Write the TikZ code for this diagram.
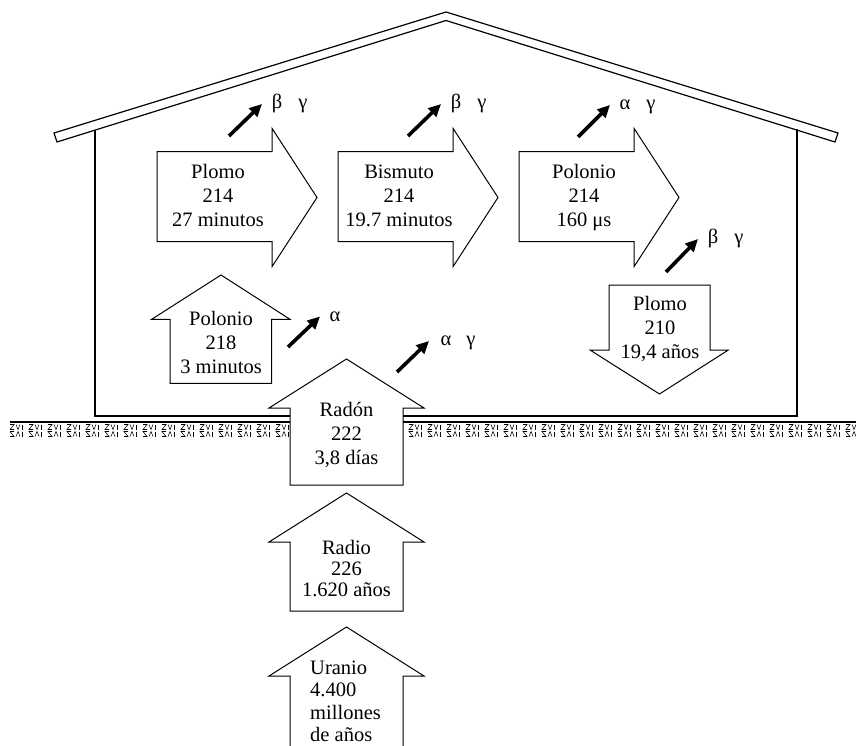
\documentclass[tikz,border=0pt]{standalone}
\usepackage{fontspec}
\setmainfont{Liberation Serif}
\usetikzlibrary{arrows.meta}
\begin{document}
\begin{tikzpicture}[x=1pt,y=-1pt,
  building/.style={draw=black,line width=1.2pt,line join=miter},
  outline/.style={draw=black,line width=1pt,fill=white,line join=miter},
  soil/.style={draw=black,line width=0.55pt},
  emission/.style={line width=3.6pt,-{Triangle[length=12.5pt 0,width=11.5pt 0]}},
  decay/.style={font=\fontsize{20.5}{24}\selectfont,inner sep=0pt,anchor=base},
  particle/.style={font=\fontsize{20.5}{24}\selectfont,inner sep=0pt,anchor=base},
  pics/rightdecay/.style={code={
    \draw[outline] (0,0) -- (115,0) -- (115,-23.4) -- (160,45.8)
      -- (115,115) -- (115,90) -- (0,90) -- cycle;}}
]
\useasboundingbox (0,0) rectangle (856,746);

% roof band
\draw[building] (54,133) -- (446,12) -- (838,133) -- (835,142)
  -- (446,20.5) -- (57,142) -- cycle;
% walls and floor
\draw[building] (95,130) -- (95,416) -- (797,416) -- (797,129.5);

% ground surface
\draw[building] (10,422) -- (856,422);
\begin{scope}
  \clip (10,422) rectangle (290,440) (403,422) rectangle (856,440);
  \foreach \x in {10,29,...,856} {
    \draw[soil] (\x,424.5) -- (\x+4,424.5) -- (\x,429.5) -- (\x+4,429.5);
    \draw[soil] (\x+6,424.5) -- (\x+8,429.5) -- (\x+10,424.5);
    \draw[soil] (\x+12,424.5) -- (\x+12,429.5);
    \draw[soil] (\x+4,431.5) -- (\x,431.5) -- (\x+4,436.5) -- (\x,436.5);
    \draw[soil] (\x+6,436.5) -- (\x+8,431.5) -- (\x+10,436.5);
    \draw[soil] (\x+12,431.5) -- (\x+12,436.5);
  }
\end{scope}

% decay chain shapes
\fill[white] (290.5,676.5) rectangle (402.5,746);
\draw[outline] (346.5,627) -- (424,676) -- (403,676) -- (403,746.5)
  (290,746.5) -- (290,676) -- (269,676) -- (346.5,627);
\draw[outline] (346.5,493) -- (424,542) -- (403,542) -- (403,611)
  -- (290,611) -- (290,542) -- (269,542) -- cycle;
\draw[outline] (346.5,359) -- (424,408) -- (403,408) -- (403,485)
  -- (290,485) -- (290,408) -- (269,408) -- cycle;
\draw[outline] (221,275) -- (290,319.3) -- (271.7,319.3) -- (271.7,383.3)
  -- (170,383.3) -- (170,319.3) -- (151.7,319.3) -- cycle;
\pic at (157,151.7) {rightdecay};
\pic at (338,151.7) {rightdecay};
\pic at (519,151.7) {rightdecay};
\draw[outline] (609,285) -- (710,285) -- (710,350) -- (728.3,350)
  -- (659.5,394) -- (590,350) -- (609,350) -- cycle;

% nuclide labels
\node[decay,anchor=base west] (u238) at (310,674)
  {\fontsize{20.5}{22.5}\selectfont\begin{tabular}[t]{@{}l@{}}Uranio\\4.400\\millones\\de años\end{tabular}};
\node[decay] (ra226) at (346.5,554)
  {\fontsize{20.5}{21}\selectfont\begin{tabular}[t]{@{}c@{}}Radio\\226\\1.620 años\end{tabular}};
\node[decay] (rn222) at (346.5,416.7)
  {\begin{tabular}[t]{@{}c@{}}Radón\\222\\3,8 días\end{tabular}};
\node[decay] (po218) at (221,325)
  {\begin{tabular}[t]{@{}c@{}}Polonio\\218\\3 minutos\end{tabular}};
\node[decay] (pb214) at (218,178.3)
  {\begin{tabular}[t]{@{}c@{}}Plomo\\214\\27 minutos\end{tabular}};
\node[decay] (bi214) at (399,178.3)
  {\begin{tabular}[t]{@{}c@{}}Bismuto\\214\\19.7 minutos\end{tabular}};
\node[decay] (po214) at (584,178.3)
  {\begin{tabular}[t]{@{}c@{}}Polonio\\214\\160 μs\end{tabular}};
\node[decay] (pb210) at (660,310)
  {\begin{tabular}[t]{@{}c@{}}Plomo\\210\\19,4 años\end{tabular}};

% emitted radiation
\draw[emission] (229,136) -- (262,104);
\node[particle] (b1) at (277,108.5) {β};
\node[particle] (g1) at (303,108.5) {γ};
\draw[emission] (408,136) -- (441,104);
\node[particle] (b2) at (456,108.5) {β};
\node[particle] (g2) at (482,108.5) {γ};
\draw[emission] (578,137) -- (610,105);
\node[particle] (a3) at (625,109.5) {α};
\node[particle] (g3) at (651,109.5) {γ};
\draw[emission] (666,272) -- (698,239);
\node[particle] (b4) at (713,243.5) {β};
\node[particle] (g4) at (739,243.5) {γ};
\draw[emission] (288,347) -- (320,316.5);
\node[particle] (a5) at (335,321) {α};
\draw[emission] (397,372) -- (429,341);
\node[particle] (a6) at (446,345.5) {α};
\node[particle] (g6) at (471,345.5) {γ};
\end{tikzpicture}
\end{document}
